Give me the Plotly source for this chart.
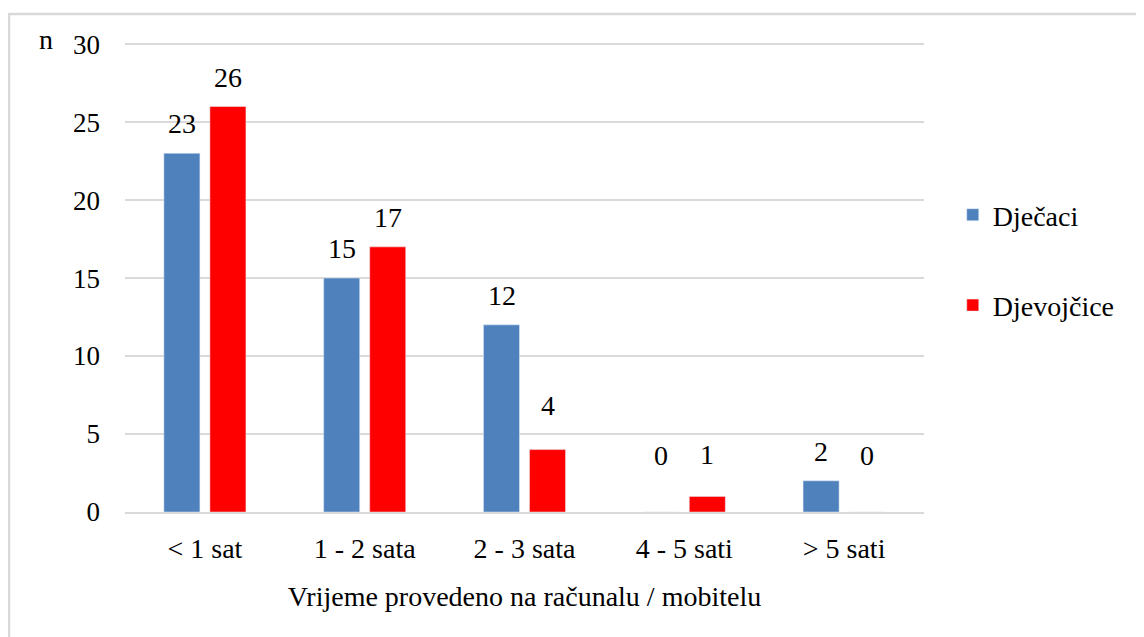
import plotly.graph_objects as go

categories = ["< 1 sat", "1 - 2 sata", "2 - 3 sata", "4 - 5 sati", "> 5 sati"]
djecaci = [23, 15, 12, 0, 2]
djevojcice = [26, 17, 4, 1, 0]
y_ticks = [0, 5, 10, 15, 20, 25, 30]

BLUE = "#4F81BD"
RED = "#FF0000"
FONT = "Liberation Serif"

# extra lift (px) of a few labels that sit higher in the original
label_lift = {("b", "2 - 3 sata"): 15, ("b", "4 - 5 sati"): 12,
              ("a", "4 - 5 sati"): 27, ("b", "> 5 sati"): 27}

fig = go.Figure()

fig.add_trace(go.Bar(
    x=categories, y=djecaci, name="Dječaci",
    marker=dict(color=BLUE), legendgroup="a",
))
fig.add_trace(go.Bar(
    x=categories, y=djevojcice, name="Djevojčice",
    marker=dict(color=RED), legendgroup="b",
))

# Data labels above each bar
for key, vals, shift in (("a", djecaci, -23), ("b", djevojcice, 23)):
    for cat, v in zip(categories, vals):
        fig.add_annotation(
            x=cat, y=v, text=str(v), showarrow=False,
            xshift=shift, yshift=12 + label_lift.get((key, cat), 0),
            yanchor="bottom",
            font=dict(size=28, color="black", family=FONT),
        )

# "n" axis label
fig.add_annotation(
    xref="paper", yref="paper", x=-0.099, y=1.004, text="n",
    showarrow=False, xanchor="center", yanchor="middle",
    font=dict(size=28, color="black", family=FONT),
)

# Outer frame
fig.add_shape(
    type="rect", xref="paper", yref="paper",
    x0=-0.1452, y0=-0.4, x1=1.4, y1=1.0572,
    line=dict(color="#D9D9D9", width=2.5), layer="below",
)

fig.update_layout(
    width=1136, height=629,
    paper_bgcolor="white", plot_bgcolor="white",
    font=dict(family=FONT, color="black"),
    barmode="group", bargap=0.424, bargroupgap=0.217,
    showlegend=True,
    legend=dict(
        x=1.036, y=0.535, xanchor="left", yanchor="middle",
        font=dict(size=28, family=FONT),
        tracegroupgap=51, traceorder="grouped",
    ),
    xaxis=dict(
        showgrid=False, showline=True, linecolor="#D9D9D9", linewidth=2,
        ticks="", tickfont=dict(size=28), ticklabelstandoff=10,
        title=dict(text="Vrijeme provedeno na računalu / mobitelu",
                   font=dict(size=28), standoff=24),
    ),
    yaxis=dict(
        range=[0, 30.2], tickvals=y_ticks, showgrid=True,
        gridcolor="#D9D9D9", gridwidth=2, zeroline=False,
        tickfont=dict(size=27), ticklabelstandoff=24,
    ),
    margin=dict(l=117, r=220, t=33, b=125),
)

fig.write_html("out.html")
